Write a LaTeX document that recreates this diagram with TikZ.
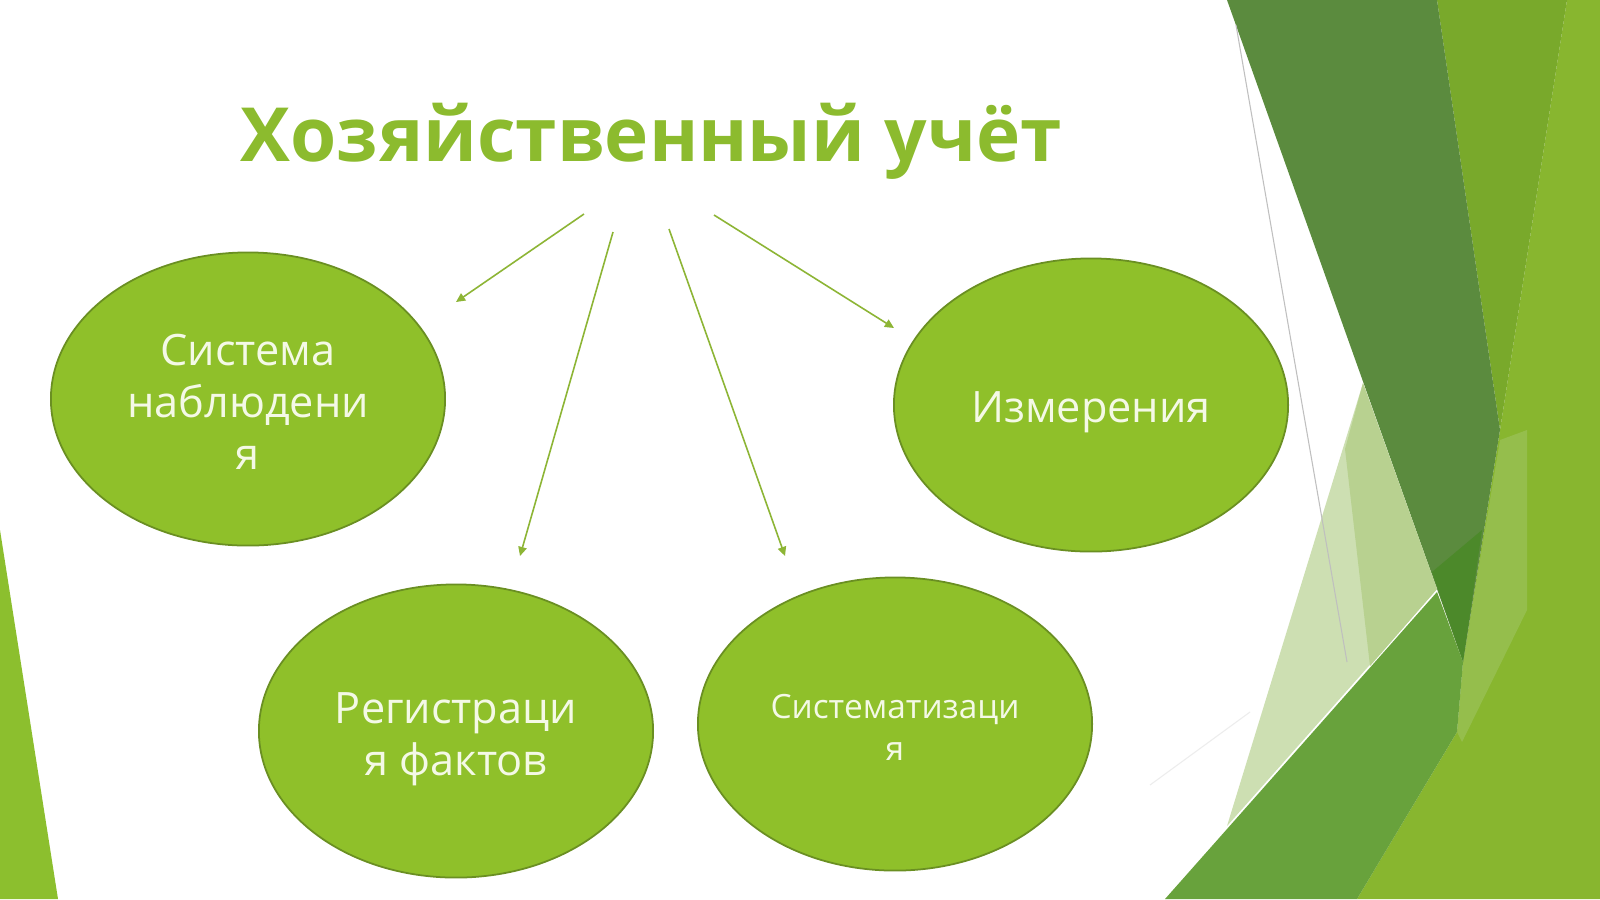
\documentclass[tikz,border=0pt]{standalone}
\usepackage{fontspec}
\setmainfont{Open Sans}
\usetikzlibrary{shapes.geometric,arrows.meta}
\definecolor{ovalfill}{HTML}{8FC02A}
\definecolor{ovaldraw}{HTML}{6A8F22}
\definecolor{titlecol}{HTML}{8CBB2E}
\definecolor{arrowcol}{HTML}{8DB535}
\definecolor{ovaltext}{HTML}{F4F9E6}
\definecolor{darkband}{HTML}{5B8B3E}
\definecolor{darkerband}{HTML}{4C892A}
\definecolor{midtop}{HTML}{79A92B}
\definecolor{brightright}{HTML}{88B62F}
\definecolor{midband}{HTML}{68A23C}
\definecolor{lightpanel}{HTML}{CDDFB2}
\definecolor{lightpanelB}{HTML}{B8D190}
\definecolor{lightoverlay}{HTML}{A3C66A}
\definecolor{leftsliver}{HTML}{8CBF2E}
\tikzset{
  oval/.style={ellipse, fill=ovalfill, draw=ovaldraw, line width=0.5pt,
    minimum width=3.94cm, minimum height=2.93cm, inner sep=0pt},
  ovallabel/.style={text=ovaltext, align=center, inner sep=0pt,
    font=\fontsize{12.3}{14.8}\selectfont},
  smalllabel/.style={ovallabel, font=\fontsize{9.5}{11.9}\selectfont},
  conn/.style={draw=arrowcol, line width=0.45pt, -{Triangle[length=2.6pt,width=2.4pt]}},
  titlestyle/.style={text=titlecol, font=\fontsize{21.25}{26}\selectfont\bfseries, inner sep=0pt}
}
\begin{document}
\begin{tikzpicture}[x=0.01cm,y=-0.01cm]
\useasboundingbox (0,0) rectangle (1600,899);
\fill[white] (0,0) rectangle (1600,899);
% left sliver
\fill[leftsliver] (0,530) -- (58,899) -- (0,899) -- cycle;
% right decorations
\fill[brightright] (1567,0) -- (1600,0) -- (1600,899) -- (1357,899) -- (1457,732) -- (1463,662) -- (1500,430) -- cycle;
\fill[lightoverlay, opacity=0.5] (1500,440) -- (1527,430) -- (1527,610) -- (1462,742) -- (1457,732) -- (1463,662) -- cycle;
\fill[midtop] (1437,0) -- (1567,0) -- (1500,430) -- cycle;
\fill[darkband] (1227,0) -- (1437,0) -- (1500,430) -- (1463,662) -- cycle;
\fill[darkerband] (1432,572) -- (1482,530) -- (1463,662) -- cycle;
\fill[lightpanel] (1363,383) -- (1437,589) -- (1227,826) -- cycle;
\fill[lightpanelB] (1363,383) -- (1437,589) -- (1370,666) -- (1345,449) -- cycle;
\fill[midband] (1165,899) -- (1437,592) -- (1463,662) -- (1457,732) -- (1357,899) -- cycle;
\draw[black!25, line width=0.3pt] (1236,25) -- (1310,450) -- (1347,662);
\draw[black!7, line width=0.3pt] (1150,785) -- (1250,712);
% title
\node[titlestyle, anchor=base] (title) at (651,161) {Хозяйственный учёт};
% ovals
\node[oval, label={[ovallabel, yshift=-0.03cm]center:Система\\наблюдени\\я}] (obs) at (248,399) {};
\node[oval, label={[ovallabel, yshift=-0.07cm]center:Измерения}] (meas) at (1091,405) {};
\node[oval, label={[ovallabel, yshift=-0.08cm]center:Регистраци\\я фактов}] (reg) at (456,731) {};
\node[oval, label={[smalllabel, yshift=-0.03cm]center:Систематизаци\\я}] (sys) at (895,724) {};
% arrow ends
\coordinate (s1) at (584,214); \coordinate (e1) at (456,302);
\coordinate (s2) at (613,232); \coordinate (e2) at (520,556);
\coordinate (s3) at (669,229); \coordinate (e3) at (785,556);
\coordinate (s4) at (714,215); \coordinate (e4) at (894,328);
\draw[conn] (s1) -- (e1);
\draw[conn] (s2) -- (e2);
\draw[conn] (s3) -- (e3);
\draw[conn] (s4) -- (e4);
\end{tikzpicture}
\end{document}
